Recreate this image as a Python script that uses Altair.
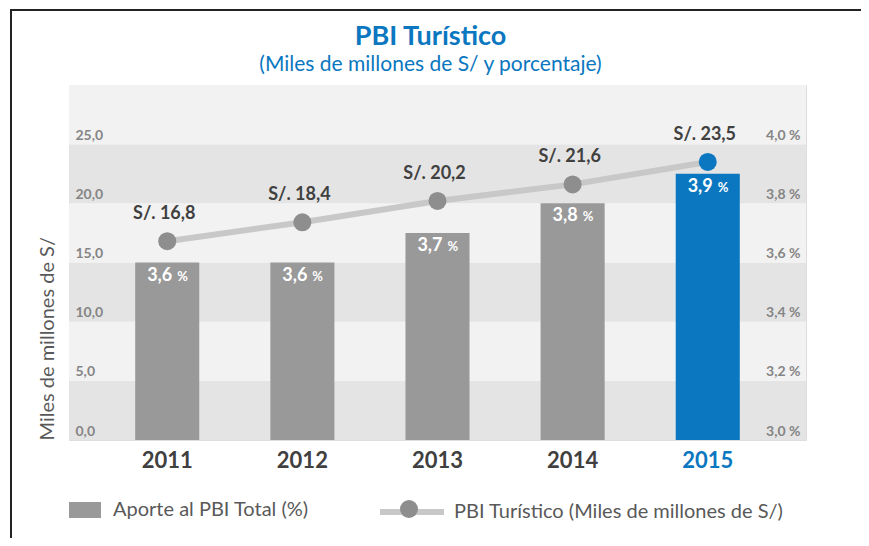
import altair as alt
import pandas as pd

# ---- data ----
anios = ["2011", "2012", "2013", "2014", "2015"]
pbi_turistico = [16.8, 18.4, 20.2, 21.6, 23.5]      # miles de millones S/
aporte_pct = [3.6, 3.6, 3.7, 3.8, 3.9]              # % del PBI total
left_ticks = [0, 5, 10, 15, 20, 25]
right_ticks = [3.0, 3.2, 3.4, 3.6, 3.8, 4.0]
band_lo = [0, 5, 10, 15, 20, 25]
band_hi = [5, 10, 15, 20, 25, 30]
band_tone = ["#e4e4e4", "#f2f2f2", "#e4e4e4", "#f2f2f2", "#e4e4e4", "#f2f2f2"]

SERIE_BAR = "Aporte al PBI Total (%)"
SERIE_LINE = "PBI Turístico (Miles de millones de S/)"

BLUE = "#0a77c0"
BAR_GRAY = "#999999"
LINE_GRAY = "#c8c8c8"
PT_GRAY = "#8e8e8e"
DARK = "#404040"
FONT = "Lato"

df = pd.DataFrame({
    "anio": anios,
    "pbi": pbi_turistico,
    "pct": aporte_pct,
})
df["pbi_lbl"] = ["S/. " + f"{v:.1f}".replace(".", ",") for v in pbi_turistico]
df["pct_lbl"] = [f"{v:.1f}".replace(".", ",") for v in aporte_pct]
df["pct_sym"] = "%"
df["serie_bar"] = SERIE_BAR
df["serie_line"] = SERIE_LINE
df["serie_pt"] = " "

bands = pd.DataFrame({"lo": band_lo, "hi": band_hi, "tone": band_tone})

is2015 = "datum.anio == '2015'"

x_enc = alt.X(
    "anio:N",
    scale=alt.Scale(paddingInner=0.526, paddingOuter=0.49),
    axis=alt.Axis(
        title=None, domain=False, ticks=False, labelAngle=0,
        labelFont=FONT, labelFontSize=22, labelFontWeight="bold",
        labelColor={"condition": {"test": "datum.value == '2015'", "value": BLUE}, "value": DARK},
        labelPadding=10,
    ),
)

left_scale = alt.Scale(domain=[0, 30], nice=False, zero=True)
left_axis = alt.Axis(
    values=left_ticks,
    labelExpr="replace(format(datum.value, '.1f'), '.', ',')",
    labelAlign="left", labelBaseline="bottom", labelPadding=-6, labelOffset=-2,
    ticks=False, domain=False, grid=False, zindex=2,
    labelFont=FONT, labelFontSize=14, labelFontWeight="bold", labelColor="#858585",
    title="Miles de millones de S/", titleFont=FONT, titleFontSize=20,
    titleFontWeight="normal", titleColor="#595959", titleAngle=-90,
    titleAlign="left", titleBaseline="middle", titleX=-22, titleY=355,
)

right_scale = alt.Scale(domain=[3.0, 4.2], nice=False, zero=False)
right_axis = alt.Axis(
    orient="right",
    values=right_ticks,
    labelExpr="replace(format(datum.value, '.1f'), '.', ',') + ' %'",
    labelAlign="right", labelBaseline="bottom", labelPadding=-6, labelOffset=-2,
    ticks=False, domain=False, grid=False, zindex=2,
    labelFont=FONT, labelFontSize=14, labelFontWeight="bold", labelColor="#858585",
    title=None,
)

# ---- left (S/) group ----
band_layer = alt.Chart(bands).mark_rect().encode(
    y=alt.Y("lo:Q", scale=left_scale, axis=left_axis),
    y2="hi:Q",
    fill=alt.Fill("tone:N", scale=None),
)

line_layer = alt.Chart(df).mark_line(strokeWidth=6).encode(
    x=x_enc,
    y=alt.Y("pbi:Q", scale=left_scale, axis=left_axis),
    stroke=alt.Stroke(
        "serie_line:N", scale=alt.Scale(range=[LINE_GRAY]),
        legend=alt.Legend(
            orient="none", legendX=308, legendY=392, title=None,
            symbolType="M-1,0H1", symbolSize=4096, symbolStrokeWidth=6,
            symbolStrokeColor=LINE_GRAY, labelLimit=500,
            labelFont=FONT, labelFontSize=20, labelColor="#595959", labelOffset=7,
        ),
    ),
)

point_layer = alt.Chart(df).mark_point(filled=True, size=324, opacity=1).encode(
    x=x_enc,
    y=alt.Y("pbi:Q", scale=left_scale, axis=left_axis),
    color=alt.condition(is2015, alt.value(BLUE), alt.value(PT_GRAY)),
    shape=alt.Shape(
        "serie_pt:N", scale=alt.Scale(range=["circle"]),
        legend=alt.Legend(
            orient="none", legendX=331, legendY=415, title=None,
            symbolSize=324, symbolFillColor=PT_GRAY, symbolStrokeWidth=0,
            symbolOpacity=1, labelFontSize=1,
        ),
    ),
)

pbi_text = alt.Chart(df).mark_text(
    font=FONT, fontSize=18, fontWeight="bold", color=DARK, baseline="middle", dy=-27, dx=-3
).encode(
    x=x_enc,
    y=alt.Y("pbi:Q", scale=left_scale, axis=left_axis),
    text="pbi_lbl:N",
)

frame_top = alt.Chart(alt.Data(values=[{}])).mark_rule(color="#222222", strokeWidth=2).encode(
    x=alt.value(-59), x2=alt.value(800), y=alt.value(-75)
)
frame_left = alt.Chart(alt.Data(values=[{}])).mark_rule(color="#222222", strokeWidth=2).encode(
    x=alt.value(-58), y=alt.value(-76), y2=alt.value(461)
)

left_group = alt.layer(band_layer, line_layer, point_layer, pbi_text, frame_top, frame_left)

# ---- right (%) group ----
bar_layer = alt.Chart(df).mark_bar().encode(
    x=x_enc,
    y=alt.Y("pct:Q", scale=right_scale, axis=right_axis),
    y2=alt.datum(3.0),
    fill=alt.condition(
        is2015, alt.value(BLUE),
        alt.Fill(
            "serie_bar:N", scale=alt.Scale(range=[BAR_GRAY]),
            legend=alt.Legend(
                orient="none", legendX=0, legendY=409, title=None,
                symbolType="M-1,-0.5H1V0.5H-1Z", symbolSize=1024, symbolStrokeWidth=0,
                symbolFillColor=BAR_GRAY, labelLimit=500,
                labelFont=FONT, labelFontSize=20, labelColor="#595959", labelOffset=12,
            ),
        ),
    ),
)

pct_num = alt.Chart(df).mark_text(
    font=FONT, fontSize=18, fontWeight="bold", color="white", align="right",
    baseline="middle", dx=5, dy=13,
).encode(
    x=x_enc,
    y=alt.Y("pct:Q", scale=right_scale, axis=right_axis),
    text="pct_lbl:N",
)
pct_sym = alt.Chart(df).mark_text(
    font=FONT, fontSize=13, fontWeight="bold", color="white", align="left",
    baseline="middle", dx=10, dy=14,
).encode(
    x=x_enc,
    y=alt.Y("pct:Q", scale=right_scale, axis=right_axis),
    text="pct_sym:N",
)

right_group = alt.layer(bar_layer, pct_num, pct_sym)

chart = alt.layer(left_group, right_group).resolve_scale(
    y="independent"
).properties(
    width=737, height=355,
    padding={"left": 61, "top": 77, "right": 55, "bottom": 98},
    autosize=alt.AutoSizeParams(type="none"),
    title=alt.TitleParams(
        "PBI Turístico",
        subtitle="(Miles de millones de S/ y porcentaje)",
        anchor="middle", frame="group", dx=-7, offset=-68,
        font=FONT, fontSize=27, fontWeight="bold", color=BLUE,
        subtitleFont=FONT, subtitleFontSize=21, subtitleFontWeight="normal",
        subtitleColor=BLUE, subtitlePadding=3,
    ),
).configure_view(stroke=None).configure(font=FONT)

chart.save("out.html", embed_options={"renderer": "svg", "actions": False})
